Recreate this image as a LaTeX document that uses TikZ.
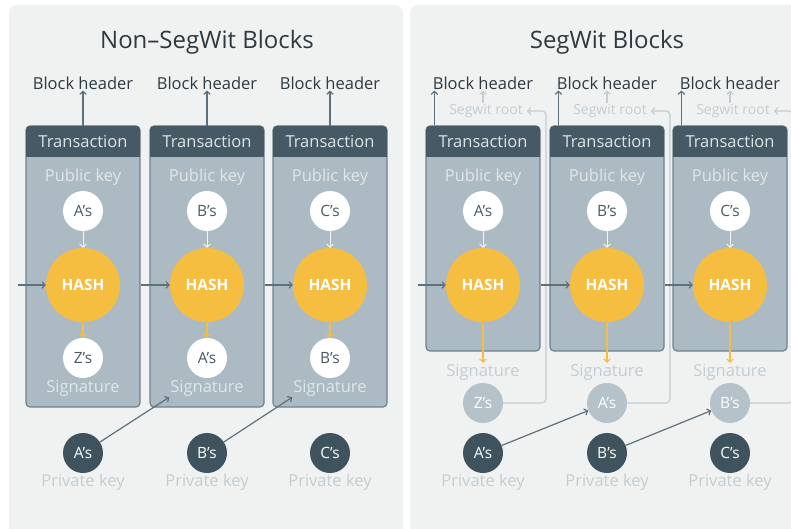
\documentclass[tikz,border=0pt]{standalone}
\usepackage{fontspec}
\setmainfont{Open Sans}
\usetikzlibrary{arrows.meta}

\definecolor{panelbg}{HTML}{F0F2F2}
\definecolor{boxfill}{HTML}{ACBBC3}
\definecolor{boxline}{HTML}{6F828C}
\definecolor{hdrcol}{HTML}{455A64}
\definecolor{hdrtext}{HTML}{DDE4E7}
\definecolor{textdark}{HTML}{2E3A40}
\definecolor{pktext}{HTML}{E0E6E9}
\definecolor{keytext}{HTML}{4A5A62}
\definecolor{hashcol}{HTML}{F5BE41}
\definecolor{privcol}{HTML}{3F535E}
\definecolor{sigfill}{HTML}{B5C2C9}
\definecolor{arrowcol}{HTML}{5E717B}
\definecolor{lightcol}{HTML}{C3CDD2}

\begin{document}
\begin{tikzpicture}[x=1pt,y=-1pt,
	>={Straight Barb[length=3pt,width=6.5pt]},
	title/.style={font=\fontsize{24}{28}\selectfont, text=textdark},
	bhtext/.style={font=\fontsize{16.5}{20}\selectfont, text=textdark, inner sep=1pt},
	txbox/.style={draw=boxline, fill=boxfill, line width=1.2pt, rounded corners=4pt, minimum width=114pt},
	hdr/.style={fill=hdrcol, text=hdrtext, rounded corners=4pt, minimum width=114pt, minimum height=31pt, inner sep=0pt, font=\fontsize{16.5}{20}\selectfont},
	lbl/.style={font=\fontsize{16.5}{20}\selectfont, text=pktext, inner sep=1pt},
	faded/.style={lbl, text=lightcol},
	rootlbl/.style={font=\fontsize{14}{17}\selectfont, text=lightcol, inner ysep=1pt, inner xsep=4pt},
	keynode/.style={circle, minimum size=40pt, inner sep=0pt, font=\fontsize{15.5}{18}\selectfont},
	pubkey/.style={keynode, fill=white, text=keytext},
	privkey/.style={keynode, fill=privcol, text=white},
	sigkey/.style={keynode, fill=sigfill, text=white},
	hashnode/.style={circle, fill=hashcol, text=white, minimum size=74pt, inner sep=0pt, font=\fontsize{15.5}{18}\selectfont\bfseries},
	arr/.style={->, draw=arrowcol, line width=1.2pt},
	lightarr/.style={->, draw=lightcol, line width=1.2pt},
	yarr/.style={->, draw=hashcol, line width=1.2pt},
	inarr/.style={->, draw=white!85!boxfill, line width=1pt}]

	\clip (0,0) rectangle (791,529);
	\fill[white] (0,0) rectangle (791,529);
	\fill[panelbg, rounded corners=8pt] (9,5) rectangle (403,545);
	\fill[panelbg, rounded corners=8pt] (410,5) rectangle (810,545);

	\node[title] (ntitle) at (207,42) {Non–SegWit Blocks};
	\node[title] (stitle) at (607,42) {SegWit Blocks};

	% non-segwit columns
	\foreach \cx/\pub/\sig/\priv [count=\i] in {83/A/Z/A, 207/B/A/B, 330/C/B/C}{
		\node[bhtext] (nbh\i) at (\cx,83) {Block header};
		\node[txbox, minimum height=281pt] (nbox\i) at (\cx,266.5) {};
		\fill[hdrcol] (\cx-57,142) rectangle (\cx+57,157);
		\node[hdr] (nhdr\i) at (\cx,141.5) {Transaction};
		\node[lbl] (npk\i) at (\cx,177) {Public key};
		\node[pubkey] (npub\i) at (\cx,211) {\pub's};
		\node[hashnode] (nhash\i) at (\cx,285) {HASH};
		\node[pubkey] (nsig\i) at (\cx,358) {\sig's};
		\node[lbl] (nsigt\i) at (\cx,388) {Signature};
		\node[privkey] (npriv\i) at (\cx,453) {\priv's};
		\node[faded] (nprivt\i) at (\cx,482) {Private key};

		\draw[arr] (nhdr\i.north) -- (nbh\i.south);
		\draw[inarr] (npub\i) -- (nhash\i);
		\draw[yarr] (nhash\i) -- (nsig\i);
	}

	\coordinate (nin) at (18,285);
	\draw[arr] (nin) -- (nhash1.west);
	\foreach \a/\b in {1/2,2/3}{
		\draw[arr] (nbox\a.east |- nhash\b) -- (nhash\b.west);
		\draw[arr] (npriv\a) -- (nsigt\b.south west);
	}

	% segwit columns
	\foreach \cx/\pub/\sig/\priv [count=\i] in {483/A/Z/A, 607/B/A/B, 730/C/B/C}{
		\node[bhtext] (sbh\i) at (\cx,83) {Block header};
		\node[rootlbl] (sroot\i) at (\cx+3,111) {Segwit root};
		\node[txbox, minimum height=225pt] (sbox\i) at (\cx,238.5) {};
		\fill[hdrcol] (\cx-57,142) rectangle (\cx+57,157);
		\node[hdr] (shdr\i) at (\cx,141.5) {Transaction};
		\node[lbl] (spk\i) at (\cx,177) {Public key};
		\node[pubkey] (spub\i) at (\cx,211) {\pub's};
		\node[hashnode] (shash\i) at (\cx,285) {HASH};
		\node[faded] (ssigt\i) at (\cx,372) {Signature};
		\node[sigkey] (ssig\i) at (\cx,403) {\sig's};
		\node[privkey] (spriv\i) at (\cx,453) {\priv's};
		\node[faded] (sprivt\i) at (\cx,482) {Private key};
		\coordinate (sup\i) at ([xshift=9pt]sbox\i.north west);
		\coordinate (sturn\i) at (\cx+63,111);

		\draw[arr] (sup\i) -- (sup\i |- sbh\i.south);
		\draw[lightarr] (sbh\i.south |- sroot\i.north) -- (sbh\i.south);
		\draw[lightarr, rounded corners=4pt] (ssig\i.east) -| (sturn\i) -- (sroot\i.east);
		\draw[inarr] (spub\i) -- (shash\i);
		\draw[yarr] (shash\i) -- (ssigt\i.north);
	}

	\coordinate (sin) at (418,285);
	\draw[arr] (sin) -- (shash1.west);
	\foreach \a/\b in {1/2,2/3}{
		\draw[arr] (sbox\a.east |- shash\b) -- (shash\b.west);
		\draw[arr] (spriv\a) -- (ssig\b);
	}
\end{tikzpicture}
\end{document}
